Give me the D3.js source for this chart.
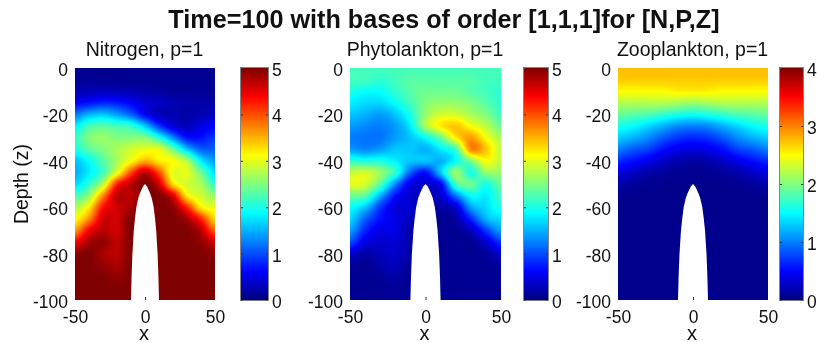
<!DOCTYPE html>
<html><head><meta charset="utf-8">
<script src="https://d3js.org/d3.v7.min.js"></script>
<style>html,body{margin:0;padding:0;background:#fff;overflow:hidden}#wrap{position:relative;width:817px;height:343px}canvas,svg{position:absolute;left:0;top:0}</style>
</head><body><div id="wrap"></div>
<script>
// Sample grid of the fields
const xGrid = [-50,-40,-30,-20,-10,0,10,20,30,40,50];
const zGrid = [0,-5,-10,-15,-20,-25,-30,-35,-40,-45,-50,-55,-60,-65,-70,-75,-80,-85,-90,-95,-100];
const nitrogen = [
[.08,.08,.08,.08,.08,.08,.08,.08,.08,.08,.08],
[.12,.12,.1,.1,.1,.1,.1,.1,.1,.1,.1],
[.25,.28,.3,.28,.25,.2,.15,.12,.12,.12,.12],
[.6,.7,.8,.75,.6,.4,.35,.25,.2,.2,.2],
[1.2,1.5,1.6,1.4,1.1,.6,.3,.25,.2,.25,.3],
[1.8,2.2,2.3,2.2,2.1,1.6,.9,.45,.3,.5,.6],
[2.1,2.5,2.6,2.5,2.5,2.5,2.0,1.3,.7,.7,.9],
[2.0,2.3,2.5,2.7,2.9,3.0,3.0,2.4,1.6,1.1,1.1],
[1.6,1.9,2.3,2.7,3.1,3.5,3.2,3.1,2.7,1.8,1.4],
[1.5,1.8,2.2,3.0,4.0,4.7,4.0,3.0,3.0,2.4,1.7],
[1.7,2.1,2.8,4.2,4.7,5,4.6,3.3,2.9,2.7,2.1],
[2.2,2.6,3.7,4.7,4.7,5,5,4.5,3.2,2.9,2.6],
[2.7,3.2,4.3,4.6,4.8,5,5,4.9,4.2,3.2,3.0],
[3.1,3.7,4.6,4.6,5,5,5,5,4.8,4.2,3.3],
[3.6,4.4,4.7,4.6,5,5,5,5,5,4.7,3.9],
[4.4,4.8,4.9,4.7,5,5,5,5,5,4.9,4.6],
[4.9,5,4.8,4.7,5,5,5,5,5,5,4.9],
[5,5,4.9,4.8,5,5,5,5,5,5,5],
[5,5,5,4.9,5,5,5,5,5,5,5],
[5,5,5,5,5,5,5,5,5,5,5],
[5,5,5,5,5,5,5,5,5,5,5]];
const phytoplankton = [
[2.2,2.2,2.2,2.2,2.2,2.2,2.2,2.2,2.2,2.2,2.2],
[2.2,2.2,2.1,2.2,2.3,2.3,2.3,2.3,2.3,2.2,2.2],
[2.0,1.9,1.9,2.1,2.3,2.4,2.4,2.4,2.3,2.2,2.1],
[1.8,1.7,1.7,1.9,2.2,2.5,2.6,2.6,2.5,2.3,2.1],
[1.6,1.5,1.4,1.6,2.0,2.6,2.9,2.9,2.7,2.5,2.2],
[1.4,1.3,1.25,1.4,1.8,2.7,3.2,3.4,3.1,2.8,2.4],
[1.25,1.2,1.2,1.4,1.6,1.9,2.4,3.2,3.6,3.1,2.7],
[1.4,1.3,1.4,1.6,1.6,1.5,1.8,2.2,3.7,3.4,2.8],
[2.1,2.0,2.0,1.8,1.6,1.6,1.5,1.9,2.5,3.1,2.8],
[2.8,2.9,2.6,2.1,1.1,.7,1.6,2.6,2.0,2.6,2.6],
[3.0,2.9,2.3,1.3,.5,.4,.6,2.2,2.4,2.0,2.4],
[2.4,2.3,1.5,.7,.4,.3,.4,1.2,1.9,1.8,2.2],
[1.9,1.6,.9,.45,.4,.2,.2,.4,1.4,1.7,2.0],
[1.7,1.1,.7,.5,.3,.1,.1,.2,.8,1.5,1.7],
[1.4,.8,.5,.5,.2,.1,.1,.1,.3,.9,1.4],
[1.0,.5,.4,.4,.2,.1,.1,.1,.1,.4,.9],
[.4,.2,.3,.35,.2,.1,.1,.1,.1,.15,.4],
[.15,.1,.2,.3,.1,.1,.1,.1,.1,.1,.15],
[.1,.1,.12,.2,.1,.1,.1,.1,.1,.1,.1],
[.1,.1,.1,.12,.1,.1,.1,.1,.1,.1,.1],
[.1,.1,.1,.1,.1,.1,.1,.1,.1,.1,.1]];
const zooplankton = [
[2.75,2.75,2.75,2.75,2.75,2.75,2.75,2.75,2.75,2.75,2.75],
[2.7,2.7,2.7,2.7,2.7,2.7,2.7,2.7,2.7,2.7,2.7],
[2.5,2.5,2.5,2.5,2.55,2.55,2.55,2.5,2.5,2.5,2.5],
[2.2,2.2,2.2,2.2,2.15,2.1,2.15,2.2,2.2,2.2,2.2],
[1.9,1.85,1.8,1.7,1.6,1.55,1.6,1.7,1.8,1.85,1.9],
[1.6,1.5,1.35,1.2,1.05,1.0,1.05,1.2,1.35,1.5,1.6],
[1.3,1.2,1.05,.85,.7,.65,.7,.85,1.05,1.2,1.3],
[1.0,.85,.75,.55,.42,.38,.42,.55,.75,.85,1.0],
[.65,.55,.42,.28,.18,.15,.18,.28,.42,.55,.65],
[.38,.28,.18,.12,.08,.08,.08,.12,.18,.28,.38],
[.18,.12,.08,.06,.05,.05,.05,.06,.08,.12,.18],
[.08,.06,.05,.05,.05,.05,.05,.05,.05,.06,.08],
[.05,.05,.05,.05,.05,.05,.05,.05,.05,.05,.05],
[.05,.05,.05,.05,.05,.05,.05,.05,.05,.05,.05],
[.05,.05,.05,.05,.05,.05,.05,.05,.05,.05,.05],
[.05,.05,.05,.05,.05,.05,.05,.05,.05,.05,.05],
[.05,.05,.05,.05,.05,.05,.05,.05,.05,.05,.05],
[.05,.05,.05,.05,.05,.05,.05,.05,.05,.05,.05],
[.05,.05,.05,.05,.05,.05,.05,.05,.05,.05,.05],
[.05,.05,.05,.05,.05,.05,.05,.05,.05,.05,.05],
[.05,.05,.05,.05,.05,.05,.05,.05,.05,.05,.05]];
// Seamount outline (half-width in x by depth)
const moundZ = [-50,-51,-52,-54,-56,-60,-65,-70,-80,-90,-100];
const moundHalfWidth = [0,1.3,2.2,3.6,4.8,6.2,7.2,8,9,9.6,10];
const xTicks = [-50,0,50];
const zTicks = [0,-20,-40,-60,-80,-100];
const titles = ["Nitrogen, p=1","Phytolankton, p=1","Zooplankton, p=1"];
const maxima = [5,5,4];
const fields = [nitrogen,phytoplankton,zooplankton];
const mainTitle = "Time=100 with bases of order [1,1,1]for [N,P,Z]";

const W=817,H=343, plotTop=68, plotBottom=300;
const panels=[{x0:75,x1:215,c0:241,c1:268},{x0:350,x1:501,c0:524,c1:548},{x0:618,x1:768,c0:780,c1:803}];
const FONT='"Liberation Sans",Arial,sans-serif';
const TICK=17.5;

const jet=d3.scaleLinear().domain([0,.125,.375,.625,.875,1])
  .range(["#00007f","#0000ff","#00ffff","#ffff00","#ff0000","#7f0000"]).clamp(true);

const wrap=d3.select("#wrap");
const canvas=wrap.append("canvas").attr("width",W).attr("height",H);
const ctx=canvas.node().getContext("2d");
ctx.fillStyle="#fff";ctx.fillRect(0,0,W,H);
const svg=wrap.append("svg").attr("width",W).attr("height",H).attr("font-family",FONT);

const zScale=d3.scaleLinear().domain([0,-100]).range([plotTop,plotBottom]);
const xi=d3.scaleLinear().domain(xGrid).range(d3.range(xGrid.length));
const zi=d3.scaleLinear().domain(zGrid).range(d3.range(zGrid.length));

// Catmull-Rom display interpolation between the read samples (shading interp look)
const cr=(a,b,c,d,t)=>b+.5*t*(c-a+t*(2*a-5*b+4*c-d+t*(3*(b-c)+d-a)));
function sample(f,x,z){
  const a=xi(x),b=zi(z),nx=xGrid.length,nz=zGrid.length;
  const i=Math.min(Math.floor(a),nx-2),j=Math.min(Math.floor(b),nz-2);
  const u=a-i,v=b-j;
  const at=(r,c)=>f[Math.max(0,Math.min(nz-1,r))][Math.max(0,Math.min(nx-1,c))];
  const row=r=>cr(at(r,i-1),at(r,i),at(r,i+1),at(r,i+2),u);
  return cr(row(j-1),row(j),row(j+1),row(j+2),v);
}
const axisStyle=g=>{
  g.select(".domain").remove();
  g.selectAll("text").attr("font-size",TICK).attr("fill","#111").text(function(){return this.textContent.replace("\u2212","-")});
  g.selectAll("line").attr("stroke","#333").attr("stroke-width",1);
};
panels.forEach((p,k)=>{
  const xScale=d3.scaleLinear().domain([-50,50]).range([p.x0,p.x1]);
  const color=v=>d3.rgb(jet(v/maxima[k]));
  const pw=p.x1-p.x0, ph=plotBottom-plotTop;
  const img=ctx.createImageData(pw,ph);
  for(let py=0;py<ph;py++)for(let px=0;px<pw;px++){
    const c=color(sample(fields[k],xScale.invert(p.x0+px+.5),zScale.invert(plotTop+py+.5)));
    const o=(py*pw+px)*4;
    img.data[o]=c.r;img.data[o+1]=c.g;img.data[o+2]=c.b;img.data[o+3]=255;
  }
  ctx.putImageData(img,p.x0,plotTop);
  const pts=moundZ.map((z,i)=>[-moundHalfWidth[i],z]).concat(moundZ.map((z,i)=>[moundHalfWidth[i],z]).reverse());
  svg.append("path").attr("fill","#fff")
    .attr("d",d3.line().x(d=>xScale(d[0])).y(d=>zScale(d[1]))(pts)+"Z");
  svg.append("g").attr("transform",`translate(0,${plotBottom})`)
    .call(d3.axisBottom(xScale).tickValues(xTicks).tickSize(-3).tickPadding(10.5).tickFormat(d3.format("d")))
    .call(axisStyle)
    .selectAll(".tick").filter(d=>d!==0).select("line").remove();
  svg.append("g").attr("transform",`translate(${p.x0},0)`)
    .call(d3.axisLeft(zScale).tickValues(zTicks).tickSize(0).tickPadding(7).tickFormat(d3.format("d")))
    .call(axisStyle)
    .selectAll("text").attr("dy",".43em");
  svg.append("text").attr("x",(p.x0+p.x1)/2-1).attr("y",340).attr("text-anchor","middle").attr("font-size",20).attr("fill","#111").text("x");
  svg.append("text").attr("x",(p.x0+p.x1)/2-.5).attr("y",56).attr("text-anchor","middle").attr("font-size",19.5).attr("fill","#111").text(titles[k]);
  const cScale=d3.scaleLinear().domain([0,maxima[k]]).range([plotBottom,plotTop]);
  svg.append("g").selectAll("rect").data(d3.range(ph)).join("rect")
    .attr("x",p.c0).attr("width",p.c1-p.c0).attr("y",d=>plotTop+d).attr("height",1.2)
    .attr("fill",d=>jet(cScale.invert(plotTop+d+.5)/maxima[k]));
  const cbTicks=d3.range(0,maxima[k]+1);
  svg.append("g").attr("transform",`translate(${p.c1},0)`)
    .call(d3.axisRight(cScale).tickValues(cbTicks).tickSize(-2).tickPadding(4).tickFormat(d3.format("d")))
    .call(axisStyle)
    .selectAll("text").attr("dy",".43em");
  svg.append("g").attr("transform",`translate(${p.c0},0)`)
    .call(d3.axisLeft(cScale).tickValues(cbTicks).tickSize(-2).tickFormat(""))
    .call(axisStyle);
  svg.append("rect").attr("x",p.c0-.5).attr("y",plotTop-.5).attr("width",p.c1-p.c0+1).attr("height",ph+1)
    .attr("fill","none").attr("stroke","#666").attr("stroke-width",.8);
});
svg.append("text").attr("transform","translate(28,184) rotate(-90)").attr("text-anchor","middle").attr("font-size",19.5).attr("fill","#111").text("Depth (z)");
svg.append("text").attr("x",444).attr("y",28).attr("text-anchor","middle").attr("font-size",25.2).attr("font-weight","bold").attr("fill","#111").text(mainTitle);
</script></body></html>
